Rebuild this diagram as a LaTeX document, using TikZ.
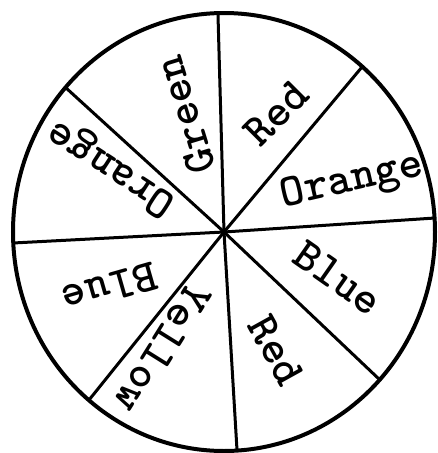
\documentclass[tikz,border=0pt]{standalone}
\usepackage{fontspec}
\usepackage{tikz}

\tikzset{
  rim/.style={line width=4pt},
  spoke/.style={line width=3pt},
  colour/.style={font=\ttfamily\bfseries\fontsize{46}{46}\selectfont, inner sep=0pt}
}

\begin{document}
\begin{tikzpicture}[x=1pt,y=-1pt]
  \useasboundingbox (0,0) rectangle (437,453);

  \coordinate (c) at (224,232);
  \coordinate (n) at (218,15);
  \coordinate (ne) at (362,67);
  \coordinate (e) at (435,218);
  \coordinate (se) at (380,380);
  \coordinate (s) at (237,450);
  \coordinate (sw) at (89,400);
  \coordinate (w) at (13,243);
  \coordinate (nw) at (65,87);

  \draw[rim] (c) ellipse [x radius=211pt, y radius=219pt];
  \foreach \p in {n,ne,e,se,s,sw,w,nw}
    \draw[spoke] (c) -- (\p);

  \node[colour, rotate=45] (redtop) at (276,113) {Red};
  \node[colour, rotate=13] (orangeright) at (352,182) {Orange};
  \node[colour, rotate=-35] (blueright) at (338,278) {Blue};
  \node[colour, rotate=-61] (redbottom) at (276,350) {Red};
  \node[colour, rotate=-122] (yellow) at (163,348) {Yellow};
  \node[colour, rotate=196] (blueleft) at (110,288) {Blue};
  \node[colour, rotate=147] (orangeleft) at (112,167) {Orange};
  \node[colour, rotate=107] (green) at (185,115) {Green};
\end{tikzpicture}
\end{document}
